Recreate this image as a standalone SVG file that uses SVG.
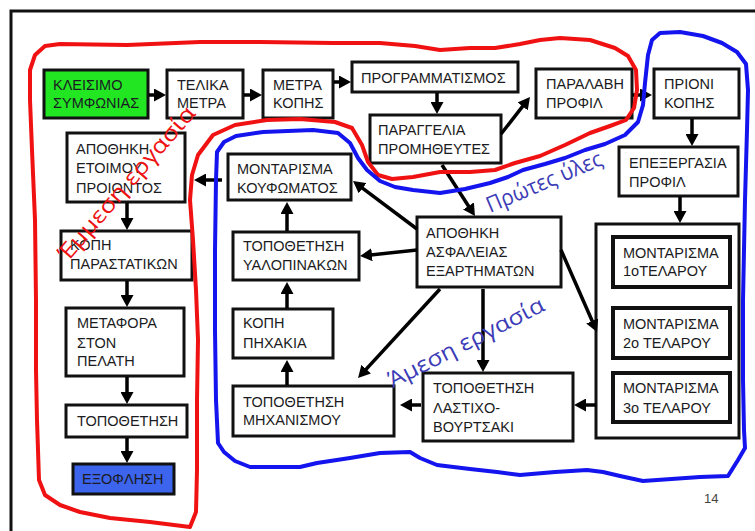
<svg xmlns="http://www.w3.org/2000/svg" width="755" height="531" viewBox="0 0 755 531">
  <style>
    .box { fill: #ffffff; stroke: #111111; stroke-width: 3; }
    .inner { fill: #ffffff; stroke: #111111; stroke-width: 4; }
    .lbl { font-family: "Liberation Sans", Arial, sans-serif; font-size: 14.5px; fill: #1b1b22; }
    .wire { stroke: #000000; stroke-width: 3.5; fill: none; marker-end: url(#head); }
    .hand { font-family: "Open Sans", "Noto Sans", sans-serif; font-size: 22px; }
    .loop { fill: none; stroke-width: 4; stroke-linejoin: round; stroke-linecap: round; }
  </style>
  <defs>
    <marker id="head" markerUnits="userSpaceOnUse" viewBox="0 0 12 13" refX="6" refY="6.5" markerWidth="12" markerHeight="13" orient="auto">
      <path d="M0,0 L12,6.5 L0,13 Z" fill="#000000"/>
    </marker>
  </defs>

  <rect x="0" y="0" width="755" height="531" fill="#ffffff"/>
  <!-- slide frame -->
  <path d="M11,531 L11,11 L755,11" fill="none" stroke="#111111" stroke-width="3"/>

  <!-- nodes -->
  <g id="kleisimo">
    <rect class="box" x="44" y="70" width="104" height="48" fill="#22e622" style="fill:#22e622"/>
    <text class="lbl" x="53" y="90">ΚΛΕΙΣΙΜΟ</text>
    <text class="lbl" x="53" y="108">ΣΥΜΦΩΝΙΑΣ</text>
  </g>
  <g id="telika-metra">
    <rect class="box" x="167" y="70" width="76" height="48"/>
    <text class="lbl" x="177" y="90">ΤΕΛΙΚΑ</text>
    <text class="lbl" x="177" y="108">ΜΕΤΡΑ</text>
  </g>
  <g id="metra-kopis">
    <rect class="box" x="263" y="70" width="70" height="48"/>
    <text class="lbl" x="273" y="90">ΜΕΤΡΑ</text>
    <text class="lbl" x="273" y="108">ΚΟΠΗΣ</text>
  </g>
  <g id="programmatismos">
    <rect class="box" x="352" y="62" width="166" height="30"/>
    <text class="lbl" x="361" y="83">ΠΡΟΓΡΑΜΜΑΤΙΣΜΟΣ</text>
  </g>
  <g id="paraggelia">
    <rect class="box" x="370" y="115" width="131" height="48"/>
    <text class="lbl" x="378" y="135">ΠΑΡΑΓΓΕΛΙΑ</text>
    <text class="lbl" x="378" y="154">ΠΡΟΜΗΘΕΥΤΕΣ</text>
  </g>
  <g id="paralavi">
    <rect class="box" x="536" y="69" width="96" height="49"/>
    <text class="lbl" x="546" y="89">ΠΑΡΑΛΑΒΗ</text>
    <text class="lbl" x="546" y="108">ΠΡΟΦΙΛ</text>
  </g>
  <g id="prioni">
    <rect class="box" x="654" y="69" width="85" height="49"/>
    <text class="lbl" x="664" y="89">ΠΡΙΟΝΙ</text>
    <text class="lbl" x="664" y="108">ΚΟΠΗΣ</text>
  </g>
  <g id="epexergasia">
    <rect class="box" x="619" y="147" width="119" height="49"/>
    <text class="lbl" x="629" y="168">ΕΠΕΞΕΡΓΑΣΙΑ</text>
    <text class="lbl" x="629" y="187">ΠΡΟΦΙΛ</text>
  </g>
  <g id="montarisma-group">
    <rect class="box" x="596" y="224" width="143" height="214"/>
    <g id="telaro-1">
      <rect class="inner" x="613" y="237" width="117" height="50"/>
      <text class="lbl" x="623" y="258">ΜΟΝΤΑΡΙΣΜΑ</text>
      <text class="lbl" x="623" y="276">1οΤΕΛΑΡΟΥ</text>
    </g>
    <g id="telaro-2">
      <rect class="inner" x="613" y="308" width="117" height="50"/>
      <text class="lbl" x="623" y="329">ΜΟΝΤΑΡΙΣΜΑ</text>
      <text class="lbl" x="623" y="348">2ο ΤΕΛΑΡΟΥ</text>
    </g>
    <g id="telaro-3">
      <rect class="inner" x="613" y="373" width="117" height="49"/>
      <text class="lbl" x="623" y="393">ΜΟΝΤΑΡΙΣΜΑ</text>
      <text class="lbl" x="623" y="413">3ο ΤΕΛΑΡΟΥ</text>
    </g>
  </g>
  <g id="lasticho">
    <rect class="box" x="423" y="373" width="150" height="68"/>
    <text class="lbl" x="433" y="393">ΤΟΠΟΘΕΤΗΣΗ</text>
    <text class="lbl" x="433" y="413">ΛΑΣΤΙΧΟ-</text>
    <text class="lbl" x="433" y="432">ΒΟΥΡΤΣΑΚΙ</text>
  </g>
  <g id="michanismos">
    <rect class="box" x="233" y="386" width="161" height="50"/>
    <text class="lbl" x="243" y="407">ΤΟΠΟΘΕΤΗΣΗ</text>
    <text class="lbl" x="243" y="425">ΜΗΧΑΝΙΣΜΟΥ</text>
  </g>
  <g id="pichakia">
    <rect class="box" x="233" y="309" width="100" height="49"/>
    <text class="lbl" x="243" y="328">ΚΟΠΗ</text>
    <text class="lbl" x="243" y="348">ΠΗΧΑΚΙΑ</text>
  </g>
  <g id="yalopinakes">
    <rect class="box" x="233" y="232" width="126" height="48"/>
    <text class="lbl" x="243" y="251">ΤΟΠΟΘΕΤΗΣΗ</text>
    <text class="lbl" x="243" y="270">ΥΑΛΟΠΙΝΑΚΩΝ</text>
  </g>
  <g id="koufomata">
    <rect class="box" x="228" y="154" width="123" height="46"/>
    <text class="lbl" x="237" y="174">ΜΟΝΤΑΡΙΣΜΑ</text>
    <text class="lbl" x="237" y="193">ΚΟΥΦΩΜΑΤΟΣ</text>
  </g>
  <g id="apothiki-asfaleias">
    <rect class="box" x="417" y="217" width="144" height="70"/>
    <text class="lbl" x="426" y="238">ΑΠΟΘΗΚΗ</text>
    <text class="lbl" x="426" y="257">ΑΣΦΑΛΕΙΑΣ</text>
    <text class="lbl" x="426" y="276">ΕΞΑΡΤΗΜΑΤΩΝ</text>
  </g>
  <g id="apothiki-etoimou">
    <rect class="box" x="67" y="133" width="118" height="69"/>
    <text class="lbl" x="76" y="154">ΑΠΟΘΗΚΗ</text>
    <text class="lbl" x="76" y="173">ΕΤΟΙΜΟΥ</text>
    <text class="lbl" x="76" y="193">ΠΡΟΙΟΝΤΟΣ</text>
  </g>
  <g id="kopi-parastatikon">
    <rect class="box" x="61" y="231" width="131" height="49"/>
    <text class="lbl" x="70" y="250">ΚΟΠΗ</text>
    <text class="lbl" x="70" y="269">ΠΑΡΑΣΤΑΤΙΚΩΝ</text>
  </g>
  <g id="metafora">
    <rect class="box" x="66" y="308" width="118" height="68"/>
    <text class="lbl" x="77" y="328">ΜΕΤΑΦΟΡΑ</text>
    <text class="lbl" x="77" y="348">ΣΤΟΝ</text>
    <text class="lbl" x="77" y="366">ΠΕΛΑΤΗ</text>
  </g>
  <g id="topothetisi">
    <rect class="box" x="66" y="405" width="121" height="32"/>
    <text class="lbl" x="77" y="426">ΤΟΠΟΘΕΤΗΣΗ</text>
  </g>
  <g id="exoflisi">
    <rect class="box" x="73" y="464" width="101" height="30" style="fill:#3c64ec"/>
    <text class="lbl" x="82" y="484">ΕΞΟΦΛΗΣΗ</text>
  </g>

  <!-- connectors -->
  <g id="connectors">
    <line class="wire" x1="149" y1="95" x2="160" y2="95"/>
    <line class="wire" x1="244" y1="95" x2="256" y2="95"/>
    <line class="wire" x1="334" y1="82" x2="345" y2="82"/>
    <line class="wire" x1="437" y1="93" x2="437" y2="108"/>
    <line class="wire" x1="501" y1="134" x2="526.3" y2="101.7"/>
    <line class="wire" x1="632" y1="95" x2="646" y2="95"/>
    <line class="wire" x1="692" y1="119" x2="692" y2="140"/>
    <line class="wire" x1="680" y1="197" x2="680" y2="217"/>
    <line class="wire" x1="442" y1="165" x2="471.7" y2="211"/>
    <line class="wire" x1="417" y1="229" x2="357.8" y2="184.6"/>
    <line class="wire" x1="417" y1="250" x2="366" y2="255.4"/>
    <line class="wire" x1="440" y1="289" x2="362.1" y2="373.6"/>
    <line class="wire" x1="483" y1="289" x2="483" y2="366"/>
    <line class="wire" x1="561" y1="250" x2="594.6" y2="326.5"/>
    <line class="wire" x1="596" y1="405" x2="580" y2="405"/>
    <line class="wire" x1="421" y1="405" x2="406" y2="405"/>
    <line class="wire" x1="287" y1="385" x2="287" y2="366"/>
    <line class="wire" x1="287" y1="308" x2="287" y2="288"/>
    <line class="wire" x1="287" y1="231" x2="287" y2="208"/>
    <line class="wire" x1="222" y1="180" x2="200" y2="180"/>
    <line class="wire" x1="127" y1="203" x2="127" y2="224"/>
    <line class="wire" x1="127" y1="281" x2="127" y2="301"/>
    <line class="wire" x1="127" y1="377" x2="127" y2="398"/>
    <line class="wire" x1="127" y1="438" x2="127" y2="457"/>
  </g>

  <!-- hand-drawn outlines -->
  <g id="outline-indirect">
    <polyline class="loop" stroke="#f01212" points="190,527 196,512 197,470 197,400 198,340 196,290 193,240 190,200 192,175 198,155 213,135 235,125 267,120 300,119 335,122 352,128 362,145 368,162 378,175 392,179 413,177 440,172 470,172 495,170 515,163 540,156 565,145 590,133 610,126 626,120 634,108 637,90 636,70 628,56 615,48 590,40 560,38 540,40 520,44 495,48 470,48 440,50 415,46 380,43 333,43 260,42 200,42 127,45 60,44 45,46 35,55 30,70 30,100 32,150 35,220 36,300 36,370 37,420 39,480 45,495 60,505 80,512 110,518 150,522 190,527"/>
  </g>
  <g id="outline-direct">
    <polyline class="loop" stroke="#1414ee" points="218,443 216,400 215,330 215,250 216,180 217,152 224,142 236,136 263,132 313,130 338,133 350,143 358,158 367,170 380,181 395,187 413,190 440,193 465,189 490,183 508,177 523,170 545,164 565,158 585,150 605,144 625,135 638,122 643,105 645,83 648,55 652,40 660,33 680,32 703,36 722,43 737,52 746,64 748,90 747,130 745,200 743,300 743,380 744,430 745,448 738,460 728,476 700,477 643,481 620,476 603,472 587,470 555,472 520,475 497,472 470,469 437,465 420,458 410,452 380,453 350,458 317,463 300,467 250,467 235,461 224,452 218,443"/>
  </g>

  <!-- handwritten labels -->
  <g id="hand-labels">
    <text class="hand" fill="#ee1212" transform="translate(68,262) rotate(-49)" textLength="196" lengthAdjust="spacingAndGlyphs">Έμμεση εργασία</text>
    <text class="hand" fill="#3c3cb6" transform="translate(490,213) rotate(-23)" textLength="124" lengthAdjust="spacingAndGlyphs">Πρώτες ύλες</text>
    <text class="hand" fill="#3c3cb6" transform="translate(393,388) rotate(-27)" textLength="172" lengthAdjust="spacingAndGlyphs">Άμεση εργασία</text>
  </g>

  <text x="704" y="503" font-family="'Liberation Sans', Arial, sans-serif" font-size="13" fill="#444444">14</text>
</svg>
